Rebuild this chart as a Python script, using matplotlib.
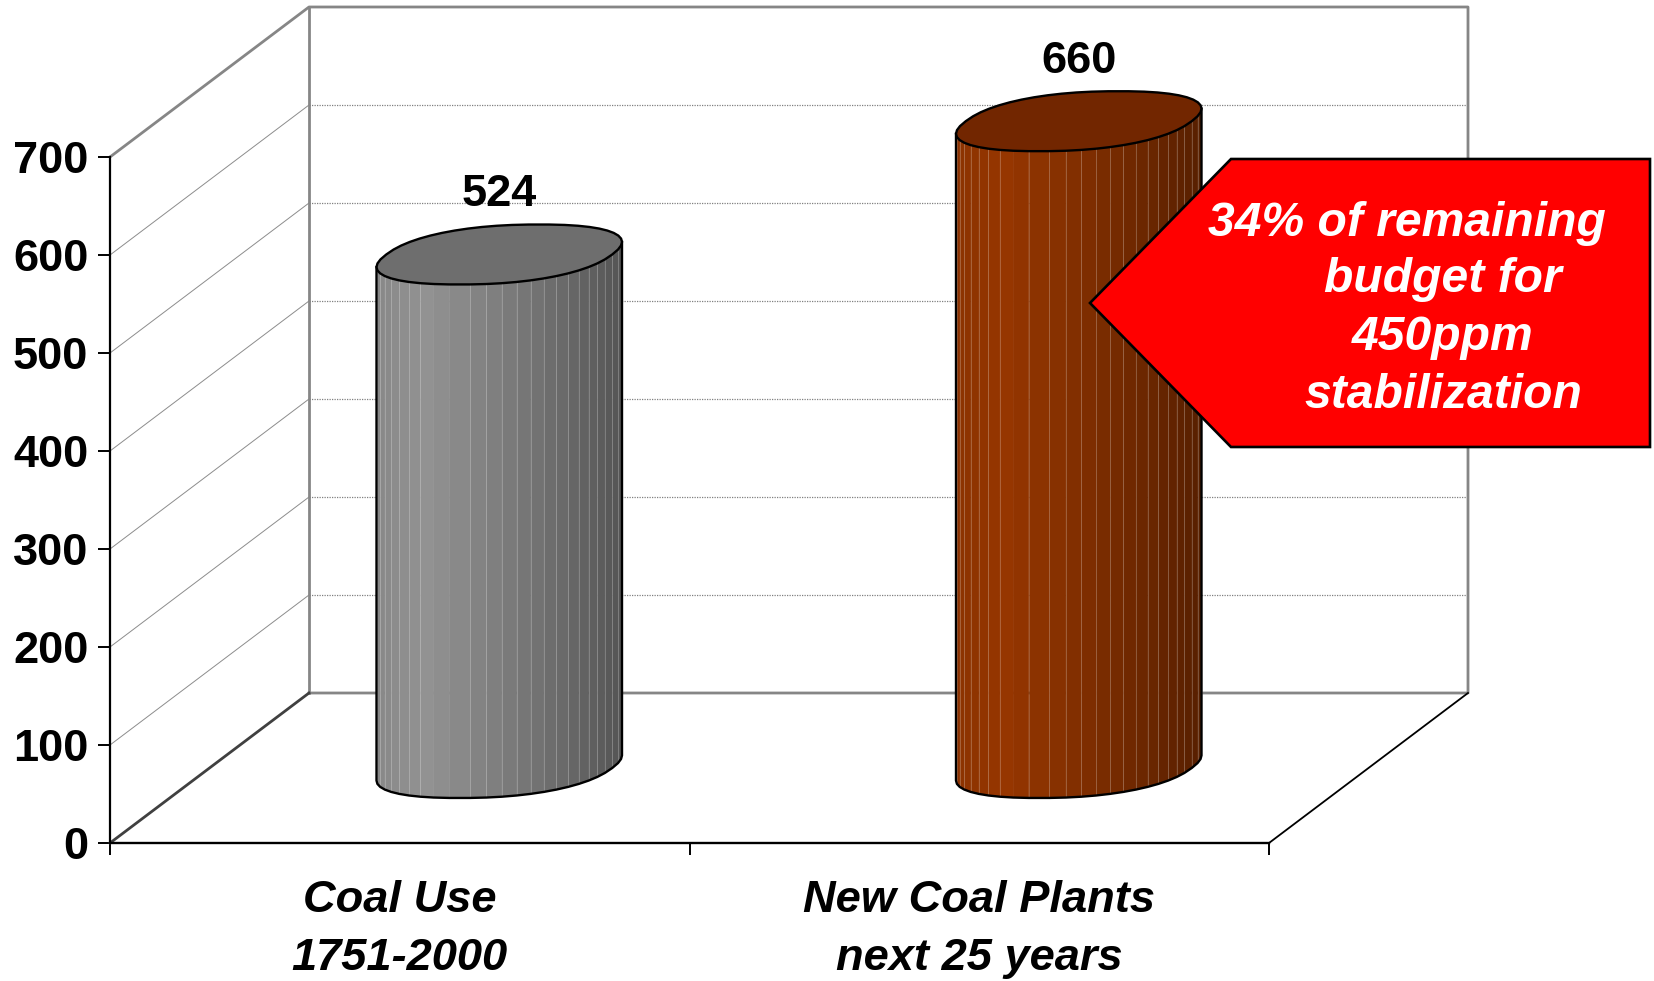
import numpy as np
import matplotlib
matplotlib.use("Agg")
import matplotlib.pyplot as plt
from matplotlib.patches import Polygon

plt.rcParams["font.family"] = ["Liberation Sans", "DejaVu Sans"]

categories = ["Coal Use\n1751-2000", "New Coal Plants\nnext 25 years"]
values = [524, 660]
y_ticks = [0, 100, 200, 300, 400, 500, 600, 700]
callout_lines = ["34% of remaining", "budget for", "450ppm", "stabilization"]

bar_colors = [(146, 146, 146), (150, 54, 0)]
top_colors = ["#6e6e6e", "#722600"]

# shading across a cylinder, from its left edge to its right edge
shade_pos = [0.0, 0.2, 0.5, 0.8, 1.0]
shade_val = [0.93, 1.0, 0.86, 0.70, 0.58]

# pixel layout of the frame
W, H = 1654, 981
X0, Y0 = 110, 843
CAT_PX = 579.5
VAL_PX = 0.98

# oblique depth of the box, in data units
DEPTH_X = 199 / CAT_PX
DEPTH_Y = 150 / VAL_PX
R_U = 113 / CAT_PX
R_D = 0.2
ROUNDNESS = 2.3


def project(u, d, v):
    """Map category position, depth (0-1) and value to the flat axes."""
    return u + d * DEPTH_X, v + d * DEPTH_Y


def px(x, y):
    """Pixel position (from top left) to figure fraction."""
    return x / W, 1 - y / H


def blob(t):
    """Slightly squared-off circle, the cylinder's cross section."""
    c, s = np.cos(t), np.sin(t)
    return np.sign(c) * np.abs(c) ** (2 / ROUNDNESS), np.sign(s) * np.abs(s) ** (2 / ROUNDNESS)


def draw_cylinder(ax, u, value, color, top_color):
    # full faceted outline of the cross section
    cap = np.radians(np.arange(0, 360, 7.2))
    cc, ss = blob(cap)
    xc, yc = project(u + R_U * cc, 0.5 + R_D * ss, value)

    # the visible side runs between the leftmost and rightmost vertices, through the front
    i_right = int(np.argmax(xc))
    i_left = int(np.argmin(xc))
    order = np.arange(i_right, i_left - len(cap) - 1, -1) % len(cap)
    cu = u + R_U * cc[order]
    cd = 0.5 + R_D * ss[order]
    xb, yb = project(cu, cd, 0)
    xt, yt = project(cu, cd, value)

    left, right = xb.min(), xb.max()
    for i in range(len(order) - 1):
        f = ((xb[i] + xb[i + 1]) / 2 - left) / (right - left)
        s = np.interp(f, shade_pos, shade_val)
        c = [channel * s / 255 for channel in color]
        ax.fill([xb[i], xb[i + 1], xt[i + 1], xt[i]], [yb[i], yb[i + 1], yt[i + 1], yt[i]],
                color=c, lw=0.4, zorder=3)
        # thin pale seam between facets, absent on the broad lit stretch
        seam = (xb[i] - left) / (right - left)
        if not 0.2 < seam < 0.36:
            ax.plot([xb[i], xt[i]], [yb[i], yt[i]], color="white", alpha=0.27, lw=0.6, zorder=3.1)

    # outline of the side
    ax.plot(np.r_[xt[0], xb, xt[-1]], np.r_[yt[0], yb, yt[-1]], color="black", lw=1.7,
            solid_joinstyle="round", zorder=4)

    # top cap
    ax.fill(xc, yc, facecolor=top_color, edgecolor="black", lw=1.7, zorder=5)

    # value label above the cap
    xl, yl = project(u, 0.5, value + 48.5 / VAL_PX)
    ax.text(xl, yl, str(value), ha="center", va="baseline", fontsize=32.5,
            fontweight="bold", color="black", zorder=6)


fig = plt.figure(figsize=(W / 100, H / 100), dpi=100, facecolor="white")
ax = fig.add_axes([0, 0, 1, 1])
ax.set_xlim(-X0 / CAT_PX, (W - X0) / CAT_PX)
ax.set_ylim(-(H - Y0) / VAL_PX, Y0 / VAL_PX)

# back and side wall grid
n_cat = len(categories)
for v in y_ticks[1:-1]:
    x, y = project(np.array([0, 0, n_cat]), np.array([0, 1, 1]), v)
    ax.plot(x[:2], y[:2], color="#8c8c8c", lw=0.7, zorder=1)
    ax.plot(x[1:], y[1:], color="#808080", lw=0.9, ls=(0, (1, 1)), zorder=1)

# wall frame
top = y_ticks[-1]
x, y = project(np.array([0, 0, n_cat, n_cat, 0]), np.array([0, 1, 1, 1, 1]),
               np.array([top, top, top, 0, 0]))
ax.plot(x, y, color="#868686", lw=2.0, zorder=1.5)
x, y = project(np.array([0, 0]), np.array([1, 1]), np.array([0, top]))
ax.plot(x, y, color="#868686", lw=2.0, zorder=1.5)

# floor edges
x, y = project(np.array([0, 0]), np.array([0, 1]), 0)
ax.plot(x, y, color="#404040", lw=2.0, zorder=1.6)
x, y = project(np.array([n_cat, n_cat]), np.array([0, 1]), 0)
ax.plot(x, y, color="black", lw=1.3, zorder=1.6)

for i, value in enumerate(values):
    draw_cylinder(ax, i + 0.5, value, bar_colors[i], top_colors[i])

# axes on the front plane of the box
for side in ["top", "right"]:
    ax.spines[side].set_visible(False)
ax.spines["left"].set_position(("data", 0))
ax.spines["bottom"].set_position(("data", 0))
ax.spines["left"].set_bounds(0, top)
ax.spines["bottom"].set_bounds(0, n_cat)
ax.spines["left"].set_linewidth(1.6)
ax.spines["bottom"].set_linewidth(1.7)

ax.set_yticks(y_ticks)
ax.set_yticklabels([str(v) for v in y_ticks], fontsize=32.5, fontweight="bold")
ax.tick_params(axis="y", length=8.6, width=1.4, pad=7)

ax.set_xticks(range(n_cat + 1))
ax.set_xticklabels([])
ax.tick_params(axis="x", which="major", length=8.6, width=1.4)
ax.set_xticks([i + 0.5 for i in range(n_cat)], minor=True)
ax.set_xticklabels(categories, minor=True, fontsize=32.6, fontweight="bold", fontstyle="italic",
                   linespacing=1.53)
ax.tick_params(axis="x", which="minor", length=0, pad=27)

# red callout pointing at the new plants bar
arrow_px = [(1090, 303), (1231, 159), (1650, 159), (1650, 447), (1231, 447)]
fig.add_artist(Polygon([px(*p) for p in arrow_px], closed=True, transform=fig.transFigure,
                       facecolor="#ff0000", edgecolor="black", lw=1.9, zorder=8))
callout_x = [1407, 1443, 1443, 1443]
callout_y = [223, 280, 338, 396]
for line, lx, ly in zip(callout_lines, callout_x, callout_y):
    xf, yf = px(lx, ly)
    fig.text(xf, yf, line, ha="center", va="center", color="white", fontsize=34.6,
             fontweight="bold", fontstyle="italic", zorder=9)

fig.savefig("out.png", dpi=100)
